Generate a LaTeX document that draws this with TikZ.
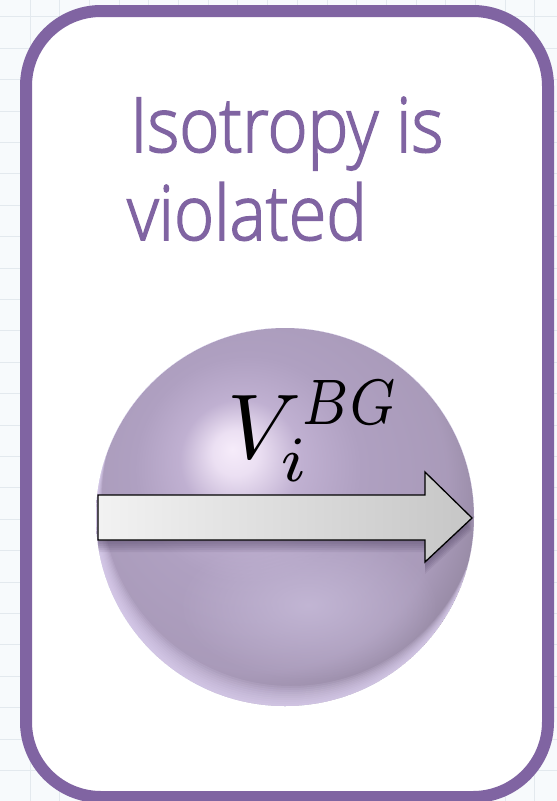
\documentclass[tikz,border=0pt]{standalone}
\usepackage{fontspec}
\usepackage{graphicx}
\setmainfont{Open Sans}[UprightFont={* Light}, FakeStretch=0.9, FakeBold=2]
\usetikzlibrary{fadings}

\definecolor{paper}{HTML}{F7FAFC}
\definecolor{gridcol}{HTML}{E3E9EE}
\definecolor{boxpurple}{HTML}{8064A2}
\definecolor{ballhi}{HTML}{F6ECFA}
\definecolor{ballsoft}{HTML}{CBBBDC}
\definecolor{ballmid}{HTML}{AFA0C1}
\definecolor{balledge}{HTML}{A092AE}
\definecolor{balldark}{HTML}{8C8098}
\definecolor{rimlight}{HTML}{E4D8F8}
\definecolor{glow}{HTML}{C4B8D6}
\definecolor{arrowl}{HTML}{F2F2F2}
\definecolor{arrowr}{HTML}{C6C6C6}

% lavender sphere, lit from the upper left
\pgfdeclareradialshading{sphereshade}{\pgfpoint{-7bp}{9bp}}{%
  color(0bp)=(ballhi); color(3bp)=(ballhi!75!ballsoft);
  color(8bp)=(ballsoft!60!ballmid); color(15bp)=(ballmid);
  color(25bp)=(ballmid!60!balledge); color(32bp)=(balldark);
  color(50bp)=(balldark)}

% soft spot that fades out towards its rim
\tikzfading[name=softspot, inner color=transparent!0, outer color=transparent!100]

\tikzset{
  gridline/.style={draw=gridcol, line width=1pt},
  card/.style={draw=boxpurple, line width=12pt, fill=white,
    rounded corners=75pt, inner sep=0pt},
  titletext/.style={anchor=base west, inner sep=0pt, text=boxpurple,
    font=\fontsize{76}{88}\selectfont},
  ball/.style={circle, inner sep=0pt, minimum size=378pt, shading=sphereshade},
  arrowbody/.style={draw=black, line width=1.3pt, line join=miter,
    left color=arrowl, right color=arrowr},
  arrowshadow/.style={fill=boxpurple!55!black, opacity=0.09},
  mathlabel/.style={anchor=base west, inner sep=0pt}
}

\def\arrowpath{(98,495) -- (425,495) -- (425,472) -- (472,518)
  -- (425,562) -- (425,540) -- (98,540) -- cycle}

\begin{document}
\begin{tikzpicture}[x=1pt,y=-1pt]
\useasboundingbox (0,0) rectangle (557,801);

% graph-paper background
\fill[paper] (0,0) rectangle (557,801);
\foreach \k in {0,...,18}
  \draw[gridline] ({30+29.7*\k},0) -- ({30+29.7*\k},801);
\foreach \k in {-14,...,12}
  \draw[gridline] (0,{425+31.4*\k}) -- (557,{425+31.4*\k});

% card
\path[card] (26,11) rectangle (548,797);

% heading
\node[titletext] (line1) at (130,152) {Isotropy is};
\node[titletext] (line2) at (127,240) {violated};

% sphere
\node[ball] (sphere) at (285,517) {};
\begin{scope}
  \clip (sphere.center) circle (189);
  % soft glow in the lower half
  \fill[glow, path fading=softspot, opacity=0.9]
    (308,605) ellipse (130 and 75);
  % pale rim along the bottom
  \foreach \d in {2,4,...,20}
    \fill[rimlight, opacity=0.13, even odd rule]
      (285,517) circle (189) ({285+0.3*\d},{517-\d}) circle (189);
  % shadow cast by the arrow
  \foreach \s in {2,4,6,8,10,12}
    \fill[arrowshadow, yshift=-\s pt] \arrowpath;
\end{scope}

% velocity arrow
\path[arrowbody] \arrowpath;
\node[mathlabel] (vel) at (227,458)
  {\scalebox{9.2}{$V_i^{\scalebox{0.82}[1]{$\scriptstyle BG$}}$}};
\end{tikzpicture}
\end{document}
